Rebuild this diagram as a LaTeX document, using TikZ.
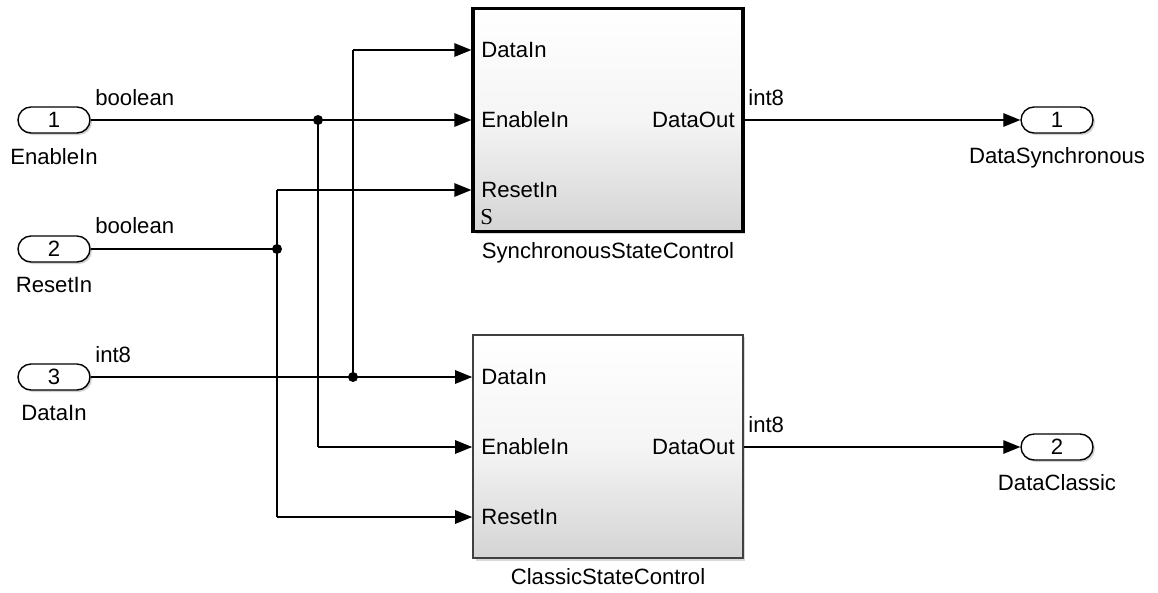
\documentclass[tikz,border=0pt]{standalone}
\usepackage{fontspec}
\setmainfont{Liberation Sans}
\newfontfamily\serifS{Liberation Serif}
\usetikzlibrary{arrows.meta,shadows}
\begin{document}
\begin{tikzpicture}[x=0.02cm,y=-0.02cm,
  font=\fontsize{12.6}{14}\selectfont,
  wire/.style={line width=0.75pt},
  arr/.style={wire,-{Triangle[length=0.34cm,width=0.27cm]}},
  pill/.style={draw,line width=0.8pt,rounded corners=0.26cm,minimum width=1.44cm,
    minimum height=0.52cm,inner sep=0pt,fill=white,
    drop shadow={opacity=0.35,shadow xshift=0.04cm,shadow yshift=-0.04cm}},
  block/.style={draw,minimum width=5.4cm,minimum height=4.47cm,inner sep=0pt,
    top color=white,bottom color=black!17,middle color=black!4,
    drop shadow={opacity=0.3,shadow xshift=0.05cm,shadow yshift=-0.05cm}},
  lbl/.style={inner sep=0pt},
  dot/.style={circle,fill=black,inner sep=0pt,minimum size=0.2cm}
]
\useasboundingbox (0,0) rectangle (1158,592);

% inports
\node[pill] (in1) at (54,120) {1};
\node[pill] (in2) at (54,249) {2};
\node[pill] (in3) at (54,377) {3};
\node[lbl] (in1l) at (54,157) {EnableIn};
\node[lbl] (in2l) at (54,285) {ResetIn};
\node[lbl] (in3l) at (54,413) {DataIn};
\node[lbl,anchor=west] (w1) at (95,98) {boolean};
\node[lbl,anchor=west] (w2) at (95,226) {boolean};
\node[lbl,anchor=west] (w3) at (95,355) {int8};

% blocks
\node[block,line width=1.9pt] (sync) at (608,120) {};
\node[block,line width=1pt,draw=black!75] (clas) at (608,446.5) {};
\node[lbl] (syncl) at (608,253) {SynchronousStateControl};
\node[lbl] (clasl) at (608,577) {ClassicStateControl};

% sync ports
\coordinate (s-din) at (sync.west |- 0,50);
\coordinate (s-en)  at (sync.west |- 0,120);
\coordinate (s-rst) at (sync.west |- 0,190);
\coordinate (s-out) at (sync.east |- 0,120);
\node[lbl,anchor=west] (s-dinl) at (481,50) {DataIn};
\node[lbl,anchor=west] (s-enl) at (481,120) {EnableIn};
\node[lbl,anchor=west] (s-rstl) at (481,190) {ResetIn};
\node[lbl,anchor=east] (s-outl) at (735,120) {DataOut};
\node[lbl,anchor=west,font=\serifS\fontsize{13}{15}\selectfont] (s-S) at (480,217) {S};

% classic ports
\coordinate (c-din) at (clas.west |- 0,377);
\coordinate (c-en)  at (clas.west |- 0,447);
\coordinate (c-rst) at (clas.west |- 0,517);
\coordinate (c-out) at (clas.east |- 0,447);
\node[lbl,anchor=west] (c-dinl) at (481,377) {DataIn};
\node[lbl,anchor=west] (c-enl) at (481,447) {EnableIn};
\node[lbl,anchor=west] (c-rstl) at (481,517) {ResetIn};
\node[lbl,anchor=east] (c-outl) at (735,447) {DataOut};

% outports
\node[pill] (out1) at (1057,120) {1};
\node[pill] (out2) at (1057,447) {2};
\node[lbl] (out1l) at (1057,158) {DataSynchronous};
\node[lbl] (out2l) at (1057,483) {DataClassic};
\node[lbl,anchor=west] (o1) at (748,98) {int8};
\node[lbl,anchor=west] (o2) at (748,425) {int8};

% junctions
\node[dot] (j1) at (318,120) {};
\node[dot] (j2) at (277,249) {};
\node[dot] (j3) at (353,377) {};

% wires
\draw[arr] (in1.east) -- (s-en);
\draw[wire] (j1.center) -- (318,447) coordinate (k1);
\draw[arr] (k1) -- (c-en);

\draw[wire] (in2.east) -- (j2.center);
\draw[wire] (277,190) coordinate (k2a) -- (277,517) coordinate (k2b);
\draw[arr] (k2a) -- (s-rst);
\draw[arr] (k2b) -- (c-rst);

\draw[arr] (in3.east) -- (c-din);
\draw[wire] (j3.center) -- (353,50) coordinate (k3);
\draw[arr] (k3) -- (s-din);

\draw[arr] (s-out) -- (out1.west);
\draw[arr] (c-out) -- (out2.west);
\end{tikzpicture}
\end{document}
